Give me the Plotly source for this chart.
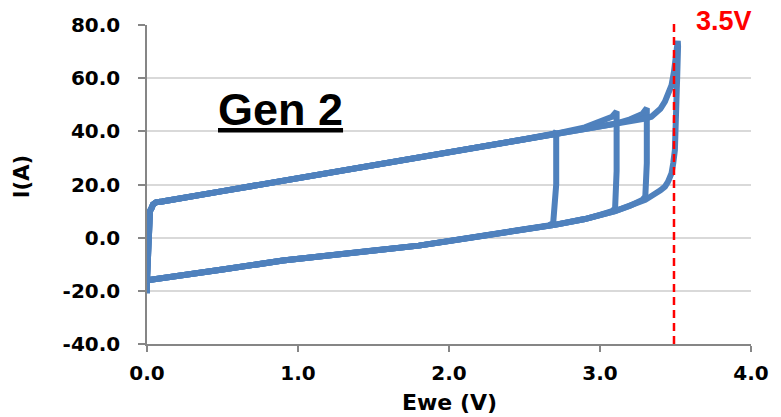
import plotly.graph_objects as go

# ---- data (Ewe in V, I in A) ----
# cycle to 2.7 V
v_c1 = [0.00, 0.00, 0.01, 0.02, 0.03, 0.04, 0.06, 0.10, 0.50, 1.00, 1.50, 2.00, 2.50, 2.70, 2.71,
        2.71, 2.70, 2.69, 2.66, 2.50, 2.20, 2.00, 1.80, 1.50, 1.20, 0.90, 0.50, 0.20, 0.02, 0.00]
i_c1 = [-21.0, -16.0, 9.0, 10.0, 11.0, 12.5, 13.3, 13.6, 17.5, 22.3, 27.0, 31.9, 37.0, 39.2, 40.0,
        20.0, 7.0, 5.5, 4.6, 3.2, 0.6, -1.3, -3.0, -4.8, -6.8, -8.6, -12.0, -14.6, -16.0, -16.0]
# cycle to 3.1 V
v_c2 = [0.00, 0.01, 0.02, 0.03, 0.04, 0.06, 0.10, 0.50, 1.00, 1.50, 2.00, 2.50, 2.70, 2.90, 3.00, 3.08, 3.11,
        3.11, 3.10, 3.08, 3.00, 2.90, 2.70, 2.50, 2.20, 2.00, 1.80, 1.50, 1.20, 0.90, 0.50, 0.20, 0.02, 0.00]
i_c2 = [-16.0, 9.0, 10.0, 11.0, 12.5, 13.3, 13.6, 17.5, 22.3, 27.0, 31.9, 37.0, 39.0, 41.5, 43.5, 45.5, 47.5,
        25.0, 11.0, 10.0, 8.6, 7.0, 4.8, 3.2, 0.6, -1.3, -3.0, -4.8, -6.8, -8.6, -12.0, -14.6, -16.0, -16.0]
# cycle to 3.3 V
v_c3 = [0.00, 0.01, 0.02, 0.03, 0.04, 0.06, 0.10, 0.50, 1.00, 1.50, 2.00, 2.50, 2.70, 2.90, 3.10, 3.20, 3.28, 3.31,
        3.31, 3.30, 3.28, 3.20, 3.10, 2.90, 2.70, 2.50, 2.20, 2.00, 1.80, 1.50, 1.20, 0.90, 0.50, 0.20, 0.02, 0.00]
i_c3 = [-16.0, 9.0, 10.0, 11.0, 12.5, 13.3, 13.6, 17.5, 22.3, 27.0, 31.9, 37.0, 39.0, 40.8, 42.8, 44.5, 46.5, 48.7,
        28.0, 15.5, 14.2, 12.0, 10.0, 7.0, 4.8, 3.2, 0.6, -1.3, -3.0, -4.8, -6.8, -8.6, -12.0, -14.6, -16.0, -16.0]
# cycle to 3.5 V
v_c4 = [0.00, 0.01, 0.02, 0.03, 0.04, 0.06, 0.10, 0.50, 1.00, 1.50, 2.00, 2.50, 2.70, 2.90, 3.10, 3.30, 3.34, 3.40,
        3.43, 3.45, 3.474, 3.49, 3.50, 3.51, 3.515, 3.517, 3.512, 3.507, 3.50, 3.496, 3.485, 3.474, 3.45, 3.43, 3.40,
        3.30, 3.10, 2.90, 2.70, 2.50, 2.20, 2.00, 1.80, 1.50, 1.20, 0.90, 0.50, 0.20, 0.02, 0.00]
i_c4 = [-16.0, 9.0, 10.0, 11.0, 12.5, 13.3, 13.6, 17.5, 22.3, 27.0, 31.9, 37.0, 39.0, 40.8, 42.8, 44.8, 45.5, 48.5,
        51.2, 53.5, 57.4, 62.5, 66.0, 71.0, 74.0, 72.0, 62.0, 52.0, 42.0, 33.0, 28.0, 24.3, 21.0, 19.2, 17.8,
        14.2, 10.0, 7.0, 4.8, 3.2, 0.6, -1.3, -3.0, -4.8, -6.8, -8.6, -12.0, -14.6, -16.0, -16.0]

cycles = [(v_c1, i_c1), (v_c2, i_c2), (v_c3, i_c3), (v_c4, i_c4)]

x_ticks = [0.0, 1.0, 2.0, 3.0, 4.0]
x_ticktext = ["0.0", "1.0", "2.0", "3.0", "4.0"]
y_ticks = [-40.0, -20.0, 0.0, 20.0, 40.0, 60.0, 80.0]
y_ticktext = ["-40.0", "-20.0", "0.0", "20.0", "40.0", "60.0", "80.0"]
limit_voltage = 3.49
limit_label = "3.5V"
title_text = "Gen 2"
x_title = "Ewe (V)"
y_title = "I(A)"

BLUE = "#4F81BD"
TICKFONT = dict(family="DejaVu Sans", size=20, color="black", weight="bold")

fig = go.Figure()
for v, i in cycles:
    fig.add_trace(go.Scatter(x=v, y=i, mode="lines",
                             line=dict(color=BLUE, width=6, shape="linear"),
                             showlegend=False, hoverinfo="skip"))

fig.add_shape(type="line", xref="x", yref="paper", x0=limit_voltage, x1=limit_voltage,
              y0=0, y1=1.016, line=dict(color="#FF0000", width=2.5, dash="8px,5px"))

fig.add_annotation(text=limit_label, xref="paper", yref="paper", x=0.955, y=1.0125,
                   showarrow=False, font=dict(family="Liberation Sans", size=27, color="#FF0000", weight="bold"),
                   xanchor="center", yanchor="middle")
fig.add_annotation(text="<u>" + title_text + "</u>", xref="paper", yref="paper", x=0.221, y=0.734,
                   showarrow=False, font=dict(family="Liberation Sans", size=45, color="black", weight="bold"),
                   xanchor="center", yanchor="middle")
fig.add_annotation(text=x_title, xref="paper", yref="paper", x=0.5, y=-0.182,
                   showarrow=False, font=dict(family="DejaVu Sans", size=22, color="black", weight="bold"),
                   xanchor="center", yanchor="middle")
fig.add_annotation(text=y_title, xref="paper", yref="paper", x=-0.208, y=0.524, textangle=-90,
                   showarrow=False, font=dict(family="DejaVu Sans", size=21, color="black", weight="bold"),
                   xanchor="center", yanchor="middle")

fig.update_layout(
    width=781, height=417,
    margin=dict(l=147, r=28, t=25, b=73),
    paper_bgcolor="white", plot_bgcolor="white",
    xaxis=dict(range=[0, 4], tickvals=x_ticks, ticktext=x_ticktext, showgrid=False, zeroline=False,
               showline=True, linecolor="#868686", linewidth=1.5, ticks="outside", ticklen=6,
               tickcolor="#868686", tickwidth=1.5, tickfont=TICKFONT, ticklabelstandoff=4),
    yaxis=dict(range=[-40, 80], tickvals=y_ticks, ticktext=y_ticktext, showgrid=True, gridcolor="#D9D9D9",
               gridwidth=1.5, zeroline=False, showline=True, linecolor="#868686", linewidth=1.5,
               ticks="outside", ticklen=7, tickcolor="#868686", tickwidth=1.5, tickfont=TICKFONT,
               ticklabelstandoff=14),
)

fig.write_html("out.html")
